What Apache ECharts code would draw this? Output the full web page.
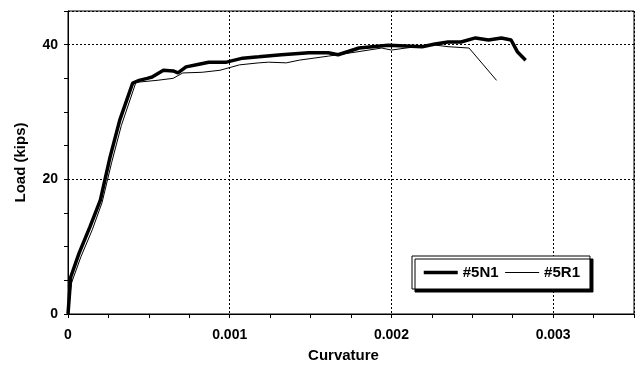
<!DOCTYPE html>
<html><head><meta charset="utf-8">
<script src="https://cdn.jsdelivr.net/npm/echarts@6/dist/echarts.min.js"></script>
<style>html,body{margin:0;padding:0;background:#fff}#c{width:639px;height:368px}</style>
</head><body><div id="c"></div>
<script>
const seriesNames = ['#5N1', '#5R1'];
const curvN1 = [0, 0.000017, 0.000068, 0.000135, 0.0002, 0.00026, 0.00032, 0.0004, 0.00044, 0.00049, 0.00052, 0.00059, 0.00065, 0.00068, 0.00073, 0.00081, 0.00087, 0.00098, 0.00108, 0.00118, 0.00132, 0.00149, 0.00161, 0.00167, 0.0018, 0.00198, 0.00209, 0.00219, 0.00227, 0.00235, 0.00243, 0.00252, 0.0026, 0.00268, 0.00274, 0.00278, 0.00283];
const loadN1 = [0, 5.5, 9, 12.9, 16.9, 23.3, 28.8, 34.3, 34.7, 35.0, 35.2, 36.2, 36.1, 35.8, 36.7, 37.1, 37.4, 37.4, 38.0, 38.2, 38.5, 38.8, 38.8, 38.5, 39.5, 39.9, 39.8, 39.7, 40.1, 40.4, 40.4, 41.0, 40.7, 41.0, 40.7, 38.9, 37.7];
const curvR1 = [0, 0.00002, 0.00008, 0.00015, 0.00021, 0.00027, 0.00033, 0.00042, 0.00055, 0.00065, 0.00071, 0.00083, 0.00094, 0.00106, 0.00118, 0.00124, 0.00135, 0.00143, 0.00161, 0.00178, 0.00194, 0.002, 0.00209, 0.00225, 0.00235, 0.00248, 0.00265];
const loadR1 = [0, 4.5, 8.5, 12.5, 16.5, 22.5, 28, 34.4, 34.7, 35.0, 35.8, 35.9, 36.2, 37.0, 37.3, 37.4, 37.3, 37.7, 38.3, 38.9, 39.5, 39.2, 39.5, 40.0, 39.7, 39.5, 34.7];
const xTicks = [0, 0.001, 0.002, 0.003];
const yTicks = [0, 20, 40];

const pair = (xs, ys) => xs.map((x, i) => [x, ys[i]]);
const fnt = 'Liberation Sans, Arial, sans-serif';
const chart = echarts.init(document.getElementById('c'), null, {renderer: 'canvas'});
chart.setOption({
  animation: false,
  backgroundColor: '#fff',
  grid: {left: 68, right: 5, top: 11, bottom: 54, show: true, borderColor: '#000', borderWidth: 1},
  legend: {
    data: [
      {name: seriesNames[0], lineStyle: {width: 3.5, color: '#000'}},
      {name: seriesNames[1], lineStyle: {width: 1, color: '#000'}}
    ],
    left: 412, top: 256,
    padding: [9, 10, 9, 10],
    itemWidth: 34, itemHeight: 12, itemGap: 6,
    itemStyle: {opacity: 0},
    backgroundColor: '#fff', borderColor: '#000', borderWidth: 1,
    shadowColor: 'rgba(0,0,0,1)', shadowBlur: 0, shadowOffsetX: 3, shadowOffsetY: 3,
    textStyle: {fontFamily: fnt, fontSize: 15, fontWeight: 'bold', color: '#000', padding: [0, 0, 0, 0]}
  },
  xAxis: {
    type: 'value', min: 0, max: 0.0035, interval: 0.001,
    name: 'Curvature', nameLocation: 'middle', nameGap: 34,
    nameTextStyle: {fontFamily: fnt, fontSize: 15, fontWeight: 'bold', color: '#000', padding: [0, 15, 0, 0]},
    axisLine: {show: true, lineStyle: {color: '#000', width: 1}},
    axisTick: {show: true, length: 4, lineStyle: {color: '#000'}},
    minorTick: {show: true, splitNumber: 4, length: 4, lineStyle: {color: '#000'}},
    splitLine: {show: true, lineStyle: {color: '#000', type: [2, 2], width: 1}},
    axisLabel: {fontFamily: fnt, fontSize: 14, fontWeight: 'bold', color: '#000', margin: 14, showMaxLabel: false,
      formatter: v => xTicks.some(t => Math.abs(t - v) < 1e-9) ? (v === 0 ? '0' : v.toFixed(3)) : ''}
  },
  yAxis: {
    type: 'value', min: 0, max: 45, interval: 20,
    name: 'Load (kips)', nameLocation: 'middle', nameGap: 40,
    nameTextStyle: {fontFamily: fnt, fontSize: 15, fontWeight: 'bold', color: '#000'},
    axisLine: {show: true, lineStyle: {color: '#000', width: 1}},
    axisTick: {show: true, length: 4, lineStyle: {color: '#000'}},
    minorTick: {show: true, splitNumber: 4, length: 4, lineStyle: {color: '#000'}},
    splitLine: {show: true, lineStyle: {color: '#000', type: [2, 2], width: 1}},
    axisLabel: {fontFamily: fnt, fontSize: 14, fontWeight: 'bold', color: '#000', margin: 10, showMaxLabel: false,
      formatter: v => yTicks.includes(v) ? String(v) : ''}
  },
  series: [
    {name: seriesNames[0], type: 'line', data: pair(curvN1, loadN1), showSymbol: false, symbol: 'none',
      lineStyle: {color: '#000', width: 3.5}, itemStyle: {color: '#000'}, z: 3},
    {name: seriesNames[1], type: 'line', data: pair(curvR1, loadR1), showSymbol: false, symbol: 'none',
      lineStyle: {color: '#000', width: 1}, itemStyle: {color: '#000'}, z: 2}
  ]
});
</script></body></html>
